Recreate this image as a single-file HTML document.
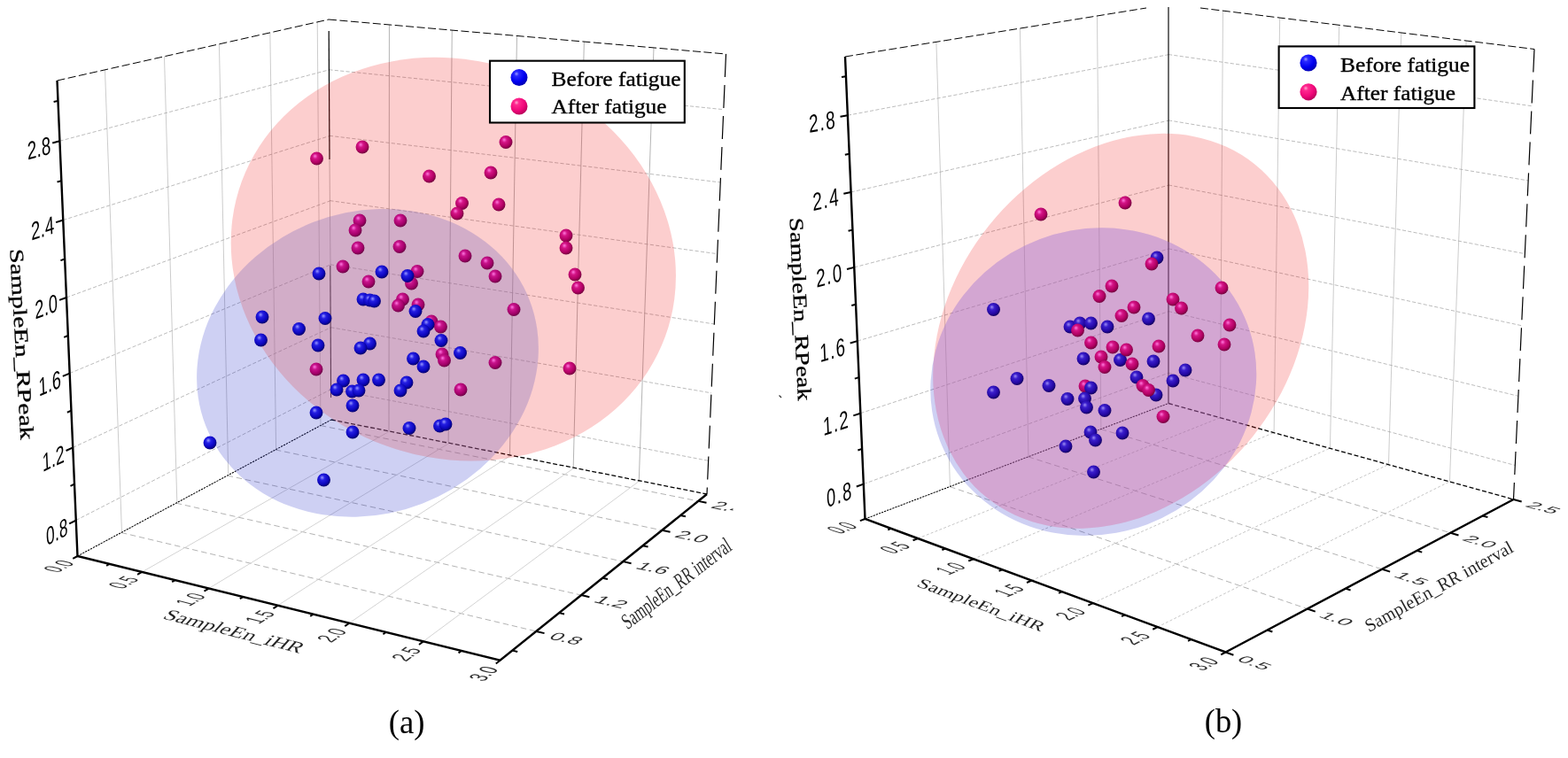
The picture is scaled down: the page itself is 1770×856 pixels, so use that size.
<!DOCTYPE html>
<html lang="en"><head><meta charset="utf-8"><title>Figure</title>
<style>
html,body{margin:0;padding:0;background:#fff;}
body{width:1770px;height:856px;overflow:hidden;}
svg{display:block;}
.sans{font-family:"Liberation Sans","DejaVu Sans",sans-serif;fill:#000;}
.serif{font-family:"Liberation Serif","DejaVu Serif",serif;fill:#000;}
.lg{stroke:#000;stroke-width:0.35;}
.gv{stroke:#c6c6c6;stroke-width:0.9;fill:none;}
.gvd{stroke:#ababab;stroke-width:0.9;fill:none;}
.gf{stroke:#cfcfcf;stroke-width:0.9;fill:none;}
.gfd{stroke:#b8b8b8;stroke-width:0.8;stroke-dasharray:3 2.2;fill:none;}
.gd{stroke:#a0a0a0;stroke-width:0.8;stroke-dasharray:6.5 3.8;fill:none;}
.gw{stroke:#a6a6a6;stroke-width:0.75;stroke-dasharray:4.2 2.2;fill:none;}
.ed{stroke:#000;stroke-width:1;stroke-dasharray:9 3.5;fill:none;}
.er{stroke:#000;stroke-width:1.2;stroke-dasharray:26 9;fill:none;}
.eb1{stroke:#000;stroke-width:1.05;stroke-dasharray:2.2 1.1;fill:none;}
.eb2{stroke:#000;stroke-width:1.3;stroke-dasharray:5 2.5;fill:none;}
.ebk{stroke:#000;fill:none;}
.ax{stroke:#000;stroke-width:2.4;fill:none;stroke-linejoin:miter;}
.tk{stroke:#000;stroke-width:2;fill:none;}
.ep{fill:rgba(238,12,8,0.2);}
.eb{fill:rgba(30,40,200,0.22);}
.ep2{fill:rgba(238,12,8,0.2);}
.eb2f{fill:rgba(30,40,200,0.22);}
</style></head>
<body>
<svg width="1770" height="856" viewBox="0 0 1770 856">
<defs>
<radialGradient id="gb" cx="0.42" cy="0.4" r="0.64" fx="0.37" fy="0.31">
<stop offset="0" stop-color="#9c9cff"/><stop offset="0.3" stop-color="#221ee8"/><stop offset="0.7" stop-color="#0a04c0"/><stop offset="1" stop-color="#050060"/>
</radialGradient>
<radialGradient id="gbi" cx="0.42" cy="0.4" r="0.64" fx="0.37" fy="0.31">
<stop offset="0" stop-color="#9898ff"/><stop offset="0.3" stop-color="#241ee2"/><stop offset="0.7" stop-color="#0c06bc"/><stop offset="1" stop-color="#05005e"/>
</radialGradient>
<radialGradient id="gbo" cx="0.42" cy="0.4" r="0.64" fx="0.37" fy="0.31">
<stop offset="0" stop-color="#9690ff"/><stop offset="0.3" stop-color="#2c1cd8"/><stop offset="0.7" stop-color="#1606b0"/><stop offset="1" stop-color="#0a005a"/>
</radialGradient>
<radialGradient id="gbx" cx="0.42" cy="0.4" r="0.64" fx="0.37" fy="0.31">
<stop offset="0" stop-color="#9c8cf4"/><stop offset="0.3" stop-color="#3a1ecc"/><stop offset="0.7" stop-color="#2408a4"/><stop offset="1" stop-color="#100054"/>
</radialGradient>
<radialGradient id="gp" cx="0.42" cy="0.4" r="0.64" fx="0.37" fy="0.31">
<stop offset="0" stop-color="#ff7cdc"/><stop offset="0.3" stop-color="#da1484"/><stop offset="0.7" stop-color="#b4005e"/><stop offset="1" stop-color="#6c0034"/>
</radialGradient>
<radialGradient id="gpi" cx="0.42" cy="0.4" r="0.64" fx="0.37" fy="0.31">
<stop offset="0" stop-color="#ff7ade"/><stop offset="0.3" stop-color="#d41486"/><stop offset="0.7" stop-color="#b00062"/><stop offset="1" stop-color="#6a0038"/>
</radialGradient>
<radialGradient id="gpo" cx="0.42" cy="0.4" r="0.64" fx="0.37" fy="0.31">
<stop offset="0" stop-color="#ff78e2"/><stop offset="0.3" stop-color="#c8148c"/><stop offset="0.7" stop-color="#a4006a"/><stop offset="1" stop-color="#640040"/>
</radialGradient>
<radialGradient id="lb" cx="0.38" cy="0.32" r="0.7" fx="0.34" fy="0.28">
<stop offset="0" stop-color="#9a9aff"/><stop offset="0.2" stop-color="#2a2aff"/><stop offset="0.65" stop-color="#0000f0"/><stop offset="1" stop-color="#0000b0"/>
</radialGradient>
<radialGradient id="lp" cx="0.38" cy="0.32" r="0.7" fx="0.34" fy="0.28">
<stop offset="0" stop-color="#ffa8d0"/><stop offset="0.2" stop-color="#ff2a90"/><stop offset="0.65" stop-color="#f0087a"/><stop offset="1" stop-color="#b8005a"/>
</radialGradient>
<clipPath id="clipL"><rect x="0" y="0" width="827.5" height="856"/></clipPath>
</defs>
<rect width="1770" height="856" fill="#fff"/>
<g><line x1="137.49" y1="601.13" x2="118.47" y2="78.85" class="gv"/><line x1="136.87" y1="601.46" x2="605.29" y2="712.95" class="gd"/><line x1="199.83" y1="567.62" x2="185.48" y2="63.76" class="gv"/><line x1="198.8" y1="568.18" x2="656.13" y2="672.07" class="gd"/><line x1="257.72" y1="536.5" x2="247.42" y2="49.82" class="gv"/><line x1="256.67" y1="537.07" x2="703.32" y2="634.13" class="gd"/><line x1="311.62" y1="507.53" x2="304.85" y2="36.89" class="gv"/><line x1="310.88" y1="507.93" x2="747.22" y2="598.83" class="gd"/><line x1="361.94" y1="480.48" x2="358.23" y2="24.87" class="gv"/><line x1="361.76" y1="480.58" x2="788.19" y2="565.89" class="gd"/><line x1="439.01" y1="486.88" x2="439.45" y2="27.95" class="gvd"/><line x1="160.31" y1="645.97" x2="439.64" y2="487" class="gf"/><line x1="506.14" y1="500.18" x2="510.25" y2="34.11" class="gvd"/><line x1="235.61" y1="664.56" x2="507.17" y2="500.38" class="gf"/><line x1="575.49" y1="513.92" x2="583.51" y2="40.48" class="gvd"/><line x1="313.53" y1="683.8" x2="576.68" y2="514.15" class="gf"/><line x1="647.17" y1="528.12" x2="659.38" y2="47.08" class="gvd"/><line x1="394.22" y1="703.72" x2="648.26" y2="528.33" class="gf"/><line x1="721.29" y1="542.8" x2="737.99" y2="53.91" class="gvd"/><line x1="477.82" y1="724.35" x2="722" y2="542.94" class="gf"/><line x1="85.77" y1="587.56" x2="373.77" y2="439.61" class="gw"/><line x1="373.77" y1="439.51" x2="799.63" y2="520.27" class="gw"/><line x1="82.25" y1="505.42" x2="373.31" y2="369.93" class="gw"/><line x1="373.31" y1="369.7" x2="802.94" y2="443.8" class="gw"/><line x1="78.66" y1="421.57" x2="372.84" y2="299.06" class="gw"/><line x1="372.84" y1="298.75" x2="806.31" y2="365.95" class="gw"/><line x1="74.99" y1="335.97" x2="372.36" y2="226.95" class="gw"/><line x1="372.36" y1="226.62" x2="809.74" y2="286.67" class="gw"/><line x1="71.25" y1="248.54" x2="371.87" y2="153.57" class="gw"/><line x1="371.87" y1="153.3" x2="813.23" y2="205.93" class="gw"/><line x1="67.42" y1="159.24" x2="371.38" y2="78.89" class="gw"/><line x1="371.38" y1="78.74" x2="816.79" y2="123.69" class="gw"/></g>
<g><line x1="64.5" y1="91" x2="371" y2="22" class="ed"/><line x1="371" y1="22" x2="819.5" y2="61" class="ed"/><line x1="819.5" y1="61" x2="798" y2="558" class="er"/><line x1="87.5" y1="628" x2="374" y2="474" class="eb1"/><line x1="374" y1="474" x2="798" y2="558" class="eb2"/><line x1="371.2" y1="35" x2="372" y2="180" class="ebk" opacity="1" stroke-width="1.2"/><line x1="372" y1="180" x2="373" y2="300" class="ebk" opacity="0.25" stroke-width="1"/><line x1="372.8" y1="300" x2="373.6" y2="449" class="ebk" opacity="0.85" stroke-width="1.1"/></g>
<ellipse cx="511.82" cy="292.7" rx="254.56" ry="224.02" transform="rotate(20.14 511.82 292.7)" class="ep"/>
<ellipse cx="414.97" cy="409.91" rx="196.05" ry="170.35" transform="rotate(-21.22 414.97 409.91)" class="eb"/>
<clipPath id="cpep"><ellipse cx="511.82" cy="292.7" rx="254.56" ry="224.02" transform="rotate(20.14 511.82 292.7)" class="x"/></clipPath>
<g clip-path="url(#cpep)"><ellipse cx="414.97" cy="409.91" rx="196.05" ry="170.35" transform="rotate(-21.22 414.97 409.91)" fill="rgba(255,204,182,0.15)"/></g>
<g><circle cx="357.5" cy="179" r="7.45" fill="url(#gpi)"/><circle cx="409" cy="166" r="7.45" fill="url(#gpi)"/><circle cx="571" cy="160.5" r="7.45" fill="url(#gpi)"/><circle cx="554" cy="195" r="7.45" fill="url(#gpi)"/><circle cx="484.5" cy="199" r="7.45" fill="url(#gpi)"/><circle cx="521.5" cy="229.5" r="7.45" fill="url(#gpi)"/><circle cx="516" cy="241" r="7.45" fill="url(#gpi)"/><circle cx="563" cy="231" r="7.45" fill="url(#gpi)"/><circle cx="639" cy="266" r="7.45" fill="url(#gpi)"/><circle cx="639" cy="280" r="7.45" fill="url(#gpi)"/><circle cx="649" cy="310" r="7.45" fill="url(#gpi)"/><circle cx="652.5" cy="325" r="7.45" fill="url(#gpi)"/><circle cx="643" cy="416" r="7.45" fill="url(#gpi)"/></g>
<g><circle cx="406" cy="249" r="7.45" fill="url(#gpo)"/><circle cx="401" cy="260" r="7.45" fill="url(#gpo)"/><circle cx="404" cy="280" r="7.45" fill="url(#gpo)"/><circle cx="387" cy="301" r="7.45" fill="url(#gpo)"/><circle cx="416" cy="318" r="7.45" fill="url(#gpo)"/><circle cx="357" cy="417" r="7.45" fill="url(#gpo)"/><circle cx="452" cy="249" r="7.45" fill="url(#gpo)"/><circle cx="451" cy="278.5" r="7.45" fill="url(#gpo)"/><circle cx="525" cy="289" r="7.45" fill="url(#gpo)"/><circle cx="550" cy="297" r="7.45" fill="url(#gpo)"/><circle cx="559" cy="312" r="7.45" fill="url(#gpo)"/><circle cx="580" cy="349.5" r="7.45" fill="url(#gpo)"/><circle cx="471" cy="306.5" r="7.45" fill="url(#gpo)"/><circle cx="464.5" cy="320" r="7.45" fill="url(#gpo)"/><circle cx="454.5" cy="338" r="7.45" fill="url(#gpo)"/><circle cx="449.5" cy="345" r="7.45" fill="url(#gpo)"/><circle cx="472" cy="344" r="7.45" fill="url(#gpo)"/><circle cx="487" cy="363" r="7.45" fill="url(#gpo)"/><circle cx="497.5" cy="369" r="7.45" fill="url(#gpo)"/><circle cx="499" cy="400" r="7.45" fill="url(#gpo)"/><circle cx="501.5" cy="407" r="7.45" fill="url(#gpo)"/><circle cx="559" cy="409.5" r="7.45" fill="url(#gpo)"/><circle cx="520" cy="440" r="7.45" fill="url(#gpo)"/></g>
<g><circle cx="360" cy="309" r="7.45" fill="url(#gbi)"/><circle cx="431" cy="307" r="7.45" fill="url(#gbi)"/><circle cx="410" cy="338" r="7.45" fill="url(#gbi)"/><circle cx="417.5" cy="339" r="7.45" fill="url(#gbi)"/><circle cx="422.5" cy="340" r="7.45" fill="url(#gbi)"/><circle cx="296" cy="358" r="7.45" fill="url(#gbi)"/><circle cx="367" cy="359.5" r="7.45" fill="url(#gbi)"/><circle cx="337.5" cy="371.5" r="7.45" fill="url(#gbi)"/><circle cx="294.5" cy="384" r="7.45" fill="url(#gbi)"/><circle cx="359" cy="390" r="7.45" fill="url(#gbi)"/><circle cx="417.5" cy="388" r="7.45" fill="url(#gbi)"/><circle cx="407" cy="393" r="7.45" fill="url(#gbi)"/><circle cx="460" cy="311.5" r="7.45" fill="url(#gbi)"/><circle cx="469" cy="351.5" r="7.45" fill="url(#gbi)"/><circle cx="483" cy="366.5" r="7.45" fill="url(#gbi)"/><circle cx="478" cy="374" r="7.45" fill="url(#gbi)"/><circle cx="498" cy="384.5" r="7.45" fill="url(#gbi)"/><circle cx="519.5" cy="398.5" r="7.45" fill="url(#gbi)"/><circle cx="466.5" cy="405" r="7.45" fill="url(#gbi)"/><circle cx="478" cy="414" r="7.45" fill="url(#gbi)"/><circle cx="387.5" cy="430" r="7.45" fill="url(#gbi)"/><circle cx="410" cy="429" r="7.45" fill="url(#gbi)"/><circle cx="427.5" cy="429" r="7.45" fill="url(#gbi)"/><circle cx="380" cy="440" r="7.45" fill="url(#gbi)"/><circle cx="397.5" cy="442" r="7.45" fill="url(#gbi)"/><circle cx="405" cy="441" r="7.45" fill="url(#gbi)"/><circle cx="398" cy="458" r="7.45" fill="url(#gbi)"/><circle cx="357" cy="466" r="7.45" fill="url(#gbi)"/><circle cx="398" cy="488" r="7.45" fill="url(#gbi)"/><circle cx="365.5" cy="542" r="7.45" fill="url(#gbi)"/><circle cx="459" cy="432" r="7.45" fill="url(#gbi)"/><circle cx="452" cy="441" r="7.45" fill="url(#gbi)"/><circle cx="462" cy="483.5" r="7.45" fill="url(#gbi)"/><circle cx="496.5" cy="481" r="7.45" fill="url(#gbi)"/><circle cx="503" cy="479" r="7.45" fill="url(#gbi)"/></g>
<g><circle cx="237" cy="500" r="7.45" fill="url(#gb)"/></g>
<g clip-path="url(#clipL)">
<polyline points="64.5,91 87.5,628 564.5,745.75 798,558" class="ax"/>
<text transform="matrix(0.6049 -0.3107 0.0428 0.9991 76.92 603.84)" class="sans" font-size="28.4" text-anchor="end" letter-spacing="0.3">0.8</text>
<text transform="matrix(0.6165 -0.287 0.0428 0.9991 73.22 521.34)" class="sans" font-size="28.4" text-anchor="end" letter-spacing="0.3">1.2</text>
<text transform="matrix(0.6277 -0.2614 0.0428 0.9991 69.46 437.1)" class="sans" font-size="28.4" text-anchor="end" letter-spacing="0.3">1.6</text>
<text transform="matrix(0.6384 -0.2341 0.0428 0.9991 65.63 351.07)" class="sans" font-size="28.4" text-anchor="end" letter-spacing="0.3">2.0</text>
<text transform="matrix(0.6484 -0.2048 0.0428 0.9991 61.73 263.19)" class="sans" font-size="28.4" text-anchor="end" letter-spacing="0.3">2.4</text>
<text transform="matrix(0.6574 -0.1738 0.0428 0.9991 57.76 173.42)" class="sans" font-size="28.4" text-anchor="end" letter-spacing="0.3">2.8</text>
<text transform="matrix(0.5461 -0.2935 0.9709 0.2397 85.23 636.08)" class="sans" font-size="26.5" text-anchor="end" opacity="0.82">0.0</text>
<text transform="matrix(0.5388 -0.3067 0.9709 0.2397 158.18 654.31)" class="sans" font-size="26.5" text-anchor="end" opacity="0.82">0.5</text>
<text transform="matrix(0.5306 -0.3208 0.9709 0.2397 233.65 673.19)" class="sans" font-size="26.5" text-anchor="end" opacity="0.82">1.0</text>
<text transform="matrix(0.5211 -0.3359 0.9709 0.2397 311.76 692.73)" class="sans" font-size="26.5" text-anchor="end" opacity="0.82">1.5</text>
<text transform="matrix(0.5102 -0.3522 0.9709 0.2397 392.67 712.97)" class="sans" font-size="26.5" text-anchor="end" opacity="0.82">2.0</text>
<text transform="matrix(0.4977 -0.3698 0.9709 0.2397 476.53 733.97)" class="sans" font-size="26.5" text-anchor="end" opacity="0.82">2.5</text>
<text transform="matrix(0.4832 -0.3885 0.9709 0.2397 563.5 755.74)" class="sans" font-size="26.5" text-anchor="end" opacity="0.82">3.0</text>
<text transform="matrix(0.895 0.213 -0.5066 0.4073 618.13 720.88)" class="sans" font-size="26.5" text-anchor="start" opacity="0.82">0.8</text>
<text transform="matrix(0.8971 0.2038 -0.5066 0.4073 669.01 679.82)" class="sans" font-size="26.5" text-anchor="start" opacity="0.82">1.2</text>
<text transform="matrix(0.899 0.1954 -0.5066 0.4073 716.23 641.71)" class="sans" font-size="26.5" text-anchor="start" opacity="0.82">1.6</text>
<text transform="matrix(0.9007 0.1876 -0.5066 0.4073 760.17 606.26)" class="sans" font-size="26.5" text-anchor="start" opacity="0.82">2.0</text>
<text transform="matrix(0.9021 0.1805 -0.5066 0.4073 801.16 573.18)" class="sans" font-size="26.5" text-anchor="start" opacity="0.82">2.4</text>
<g><line x1="85.77" y1="587.56" x2="78.21" y2="591.44" class="tk"/><line x1="84.02" y1="546.7" x2="79.53" y2="548.9" class="tk"/><line x1="82.25" y1="505.42" x2="74.54" y2="509" class="tk"/><line x1="80.46" y1="463.71" x2="75.89" y2="465.73" class="tk"/><line x1="78.66" y1="421.57" x2="70.81" y2="424.84" class="tk"/><line x1="76.83" y1="378.99" x2="72.18" y2="380.82" class="tk"/><line x1="74.99" y1="335.97" x2="67.01" y2="338.89" class="tk"/><line x1="73.13" y1="292.48" x2="68.4" y2="294.1" class="tk"/><line x1="71.25" y1="248.54" x2="63.14" y2="251.1" class="tk"/><line x1="69.35" y1="204.13" x2="64.54" y2="205.52" class="tk"/><line x1="67.42" y1="159.24" x2="59.21" y2="161.41" class="tk"/><line x1="65.48" y1="113.87" x2="60.62" y2="115.03" class="tk"/><line x1="87.5" y1="628" x2="82.22" y2="630.84" class="tk"/><line x1="123.6" y1="636.91" x2="120.1" y2="638.85" class="tk"/><line x1="160.31" y1="645.97" x2="155.09" y2="648.94" class="tk"/><line x1="197.64" y1="655.19" x2="194.19" y2="657.21" class="tk"/><line x1="235.61" y1="664.56" x2="230.47" y2="667.67" class="tk"/><line x1="274.23" y1="674.1" x2="270.84" y2="676.21" class="tk"/><line x1="313.53" y1="683.8" x2="308.49" y2="687.05" class="tk"/><line x1="353.52" y1="693.67" x2="350.19" y2="695.89" class="tk"/><line x1="394.22" y1="703.72" x2="389.28" y2="707.12" class="tk"/><line x1="435.65" y1="713.94" x2="432.4" y2="716.27" class="tk"/><line x1="477.82" y1="724.35" x2="473.01" y2="727.93" class="tk"/><line x1="520.77" y1="734.95" x2="517.6" y2="737.4" class="tk"/><line x1="564.5" y1="745.75" x2="559.82" y2="749.51" class="tk"/><line x1="578.37" y1="734.6" x2="584.2" y2="736.02" class="tk"/><line x1="605.29" y1="712.95" x2="614.53" y2="715.15" class="tk"/><line x1="631.2" y1="692.12" x2="637.04" y2="693.48" class="tk"/><line x1="656.13" y1="672.07" x2="665.4" y2="674.18" class="tk"/><line x1="680.16" y1="652.75" x2="686.01" y2="654.06" class="tk"/><line x1="703.32" y1="634.13" x2="712.6" y2="636.15" class="tk"/><line x1="725.66" y1="616.17" x2="731.53" y2="617.42" class="tk"/><line x1="747.22" y1="598.83" x2="756.52" y2="600.76" class="tk"/><line x1="768.05" y1="582.08" x2="773.93" y2="583.28" class="tk"/><line x1="788.19" y1="565.89" x2="797.5" y2="567.76" class="tk"/></g>
<text transform="matrix(0.969 0.247 -0.6691 0.7431 260 718)" class="serif" font-size="20.8" text-anchor="middle" textLength="160" lengthAdjust="spacingAndGlyphs" opacity="0.85">SampleEn_iHR</text>
<text transform="matrix(0.7934 -0.6088 0.6359 1.0177 767.8 665.8)" class="serif" font-size="20.8" text-anchor="middle" textLength="150" lengthAdjust="spacingAndGlyphs" opacity="0.85">SampleEn_RR interval</text>
<text transform="matrix(0.0558 0.9984 -0.9984 0.0558 17.2 389)" class="serif" font-size="22" text-anchor="middle" textLength="216" lengthAdjust="spacingAndGlyphs" stroke="#000" stroke-width="0.3">SampleEn_RPeak</text>
</g>
<rect x="553" y="68.7" width="219.8" height="69.8" fill="#fff" stroke="#000" stroke-width="2.1"/>
<circle cx="586" cy="87.5" r="9.5" fill="url(#lb)"/>
<circle cx="586" cy="120" r="9.5" fill="url(#lp)"/>
<text x="622.5" y="96.6" class="serif lg" font-size="23.6" textLength="146" lengthAdjust="spacingAndGlyphs">Before fatigue</text>
<text x="622.5" y="128.4" class="serif lg" font-size="23.6" textLength="130" lengthAdjust="spacingAndGlyphs">After fatigue</text>
<text x="459.2" y="828.2" class="serif" font-size="37.5" text-anchor="middle" textLength="40.7" lengthAdjust="spacingAndGlyphs">(a)</text>
<g><line x1="1072.41" y1="549.46" x2="1056.9" y2="47.37" class="gv"/><line x1="1072.16" y1="549.55" x2="1475.77" y2="687.52" class="gd"/><line x1="1160.93" y1="515.73" x2="1151.4" y2="32.09" class="gv"/><line x1="1160.63" y1="515.84" x2="1560.06" y2="642.79" class="gd"/><line x1="1242.89" y1="484.5" x2="1238.48" y2="18.02" class="gv"/><line x1="1242.69" y1="484.58" x2="1637.36" y2="601.76" class="gd"/><line x1="1377.35" y1="471.75" x2="1380.49" y2="12.52" class="gv"/><line x1="1036.16" y1="608.06" x2="1377.21" y2="471.72" class="gfd"/><line x1="1438.1" y1="488.68" x2="1444.66" y2="20.37" class="gv"/><line x1="1098.77" y1="631.21" x2="1437.88" y2="488.62" class="gfd"/><line x1="1501.42" y1="506.32" x2="1511.7" y2="28.56" class="gv"/><line x1="1164.55" y1="655.54" x2="1501.17" y2="506.24" class="gfd"/><line x1="1567.47" y1="524.72" x2="1581.78" y2="37.13" class="gv"/><line x1="1233.74" y1="681.12" x2="1567.23" y2="524.65" class="gfd"/><line x1="1636.43" y1="543.93" x2="1655.14" y2="46.1" class="gv"/><line x1="1306.62" y1="708.07" x2="1636.28" y2="543.88" class="gfd"/><line x1="974.8" y1="546.62" x2="1319" y2="421.22" class="gw"/><line x1="1319" y1="421.13" x2="1710.28" y2="525.46" class="gw"/><line x1="971.36" y1="466.68" x2="1319" y2="351.78" class="gw"/><line x1="1319" y1="351.55" x2="1713.89" y2="447.31" class="gw"/><line x1="967.84" y1="385.12" x2="1319" y2="281.14" class="gw"/><line x1="1319" y1="280.83" x2="1717.57" y2="367.71" class="gw"/><line x1="964.25" y1="301.89" x2="1319" y2="209.26" class="gw"/><line x1="1319" y1="208.94" x2="1721.32" y2="286.6" class="gw"/><line x1="960.59" y1="216.95" x2="1319" y2="136.13" class="gw"/><line x1="1319" y1="135.86" x2="1725.14" y2="203.96" class="gw"/><line x1="956.85" y1="130.23" x2="1319" y2="61.7" class="gw"/><line x1="1319" y1="61.55" x2="1729.03" y2="119.74" class="gw"/></g>
<g><line x1="954" y1="64" x2="1294" y2="9" class="ed"/><line x1="1355" y1="9" x2="1732" y2="55.5" class="ed"/><line x1="1732" y1="55.5" x2="1708.5" y2="564" class="er"/><line x1="976.5" y1="586" x2="1319" y2="455.5" class="eb1"/><line x1="1319" y1="455.5" x2="1708.5" y2="564" class="eb2"/><line x1="1319" y1="8" x2="1319" y2="455.5" class="ebk" opacity="0.82" stroke-width="1.4"/></g>
<ellipse cx="1265.24" cy="373.78" rx="241.45" ry="190.68" transform="rotate(-51.25 1265.24 373.78)" class="ep2"/>
<ellipse cx="1234.28" cy="431.15" rx="185.6" ry="172.12" transform="rotate(-20.69 1234.28 431.15)" class="eb2f"/>
<clipPath id="cpep2"><ellipse cx="1265.24" cy="373.78" rx="241.45" ry="190.68" transform="rotate(-51.25 1265.24 373.78)" class="x"/></clipPath>
<g clip-path="url(#cpep2)"><ellipse cx="1234.28" cy="431.15" rx="185.6" ry="172.12" transform="rotate(-20.69 1234.28 431.15)" fill="rgba(234,160,228,0.25)"/></g>
<g><circle cx="1306" cy="291" r="7.45" fill="url(#gbx)"/></g>
<g><circle cx="1225" cy="436" r="7.45" fill="url(#gpi)"/></g>
<g><circle cx="1121.5" cy="349.5" r="7.45" fill="url(#gbx)"/><circle cx="1208" cy="369" r="7.45" fill="url(#gbx)"/><circle cx="1219" cy="365" r="7.45" fill="url(#gbx)"/><circle cx="1231.5" cy="365" r="7.45" fill="url(#gbx)"/><circle cx="1250" cy="369" r="7.45" fill="url(#gbx)"/><circle cx="1296.5" cy="360" r="7.45" fill="url(#gbx)"/><circle cx="1223" cy="405" r="7.45" fill="url(#gbx)"/><circle cx="1264.5" cy="406.5" r="7.45" fill="url(#gbx)"/><circle cx="1302" cy="408" r="7.45" fill="url(#gbx)"/><circle cx="1148" cy="427.5" r="7.45" fill="url(#gbx)"/><circle cx="1283" cy="426" r="7.45" fill="url(#gbx)"/><circle cx="1324" cy="430" r="7.45" fill="url(#gbx)"/><circle cx="1338" cy="418" r="7.45" fill="url(#gbx)"/><circle cx="1184" cy="435.5" r="7.45" fill="url(#gbx)"/><circle cx="1121.5" cy="443" r="7.45" fill="url(#gbx)"/><circle cx="1231.5" cy="438" r="7.45" fill="url(#gbx)"/><circle cx="1205" cy="450.5" r="7.45" fill="url(#gbx)"/><circle cx="1224.5" cy="450" r="7.45" fill="url(#gbx)"/><circle cx="1226.5" cy="460" r="7.45" fill="url(#gbx)"/><circle cx="1247" cy="463.5" r="7.45" fill="url(#gbx)"/><circle cx="1231" cy="488" r="7.45" fill="url(#gbx)"/><circle cx="1236.5" cy="497" r="7.45" fill="url(#gbx)"/><circle cx="1267" cy="489" r="7.45" fill="url(#gbx)"/><circle cx="1203" cy="504" r="7.45" fill="url(#gbx)"/><circle cx="1234.5" cy="533" r="7.45" fill="url(#gbx)"/><circle cx="1305" cy="446" r="7.45" fill="url(#gbx)"/></g>
<g><circle cx="1175" cy="242" r="7.45" fill="url(#gpi)"/><circle cx="1270" cy="229" r="7.45" fill="url(#gpi)"/><circle cx="1300" cy="298" r="7.45" fill="url(#gpi)"/><circle cx="1255" cy="323" r="7.45" fill="url(#gpi)"/><circle cx="1241" cy="334.5" r="7.45" fill="url(#gpi)"/><circle cx="1280" cy="347" r="7.45" fill="url(#gpi)"/><circle cx="1266" cy="356.5" r="7.45" fill="url(#gpi)"/><circle cx="1216.5" cy="373" r="7.45" fill="url(#gpi)"/><circle cx="1231.5" cy="387" r="7.45" fill="url(#gpi)"/><circle cx="1256" cy="392" r="7.45" fill="url(#gpi)"/><circle cx="1271.5" cy="395" r="7.45" fill="url(#gpi)"/><circle cx="1243" cy="403" r="7.45" fill="url(#gpi)"/><circle cx="1278" cy="411" r="7.45" fill="url(#gpi)"/><circle cx="1247" cy="414.5" r="7.45" fill="url(#gpi)"/><circle cx="1308" cy="391" r="7.45" fill="url(#gpi)"/><circle cx="1324" cy="338" r="7.45" fill="url(#gpi)"/><circle cx="1379" cy="325" r="7.45" fill="url(#gpi)"/><circle cx="1333.5" cy="348" r="7.45" fill="url(#gpi)"/><circle cx="1388" cy="367" r="7.45" fill="url(#gpi)"/><circle cx="1352" cy="379" r="7.45" fill="url(#gpi)"/><circle cx="1382" cy="389" r="7.45" fill="url(#gpi)"/><circle cx="1290" cy="435.5" r="7.45" fill="url(#gpi)"/><circle cx="1296.5" cy="440.5" r="7.45" fill="url(#gpi)"/><circle cx="1313" cy="470.5" r="7.45" fill="url(#gpi)"/></g>
<g>
<polyline points="954,64 976.5,586 1383.5,736.5 1708.5,564" class="ax"/>
<text transform="matrix(0.6389 -0.2328 0.0431 0.9991 963.08 562.56)" class="sans" font-size="28.4" text-anchor="end" letter-spacing="2.3">0.8</text>
<text transform="matrix(0.6456 -0.2134 0.0431 0.9991 959.51 482.25)" class="sans" font-size="28.4" text-anchor="end" letter-spacing="2.3">1.2</text>
<text transform="matrix(0.652 -0.1931 0.0431 0.9991 955.87 400.3)" class="sans" font-size="28.4" text-anchor="end" letter-spacing="2.3">1.6</text>
<text transform="matrix(0.6579 -0.1718 0.0431 0.9991 952.17 316.67)" class="sans" font-size="28.4" text-anchor="end" letter-spacing="2.3">2.0</text>
<text transform="matrix(0.6633 -0.1496 0.0431 0.9991 948.41 231.3)" class="sans" font-size="28.4" text-anchor="end" letter-spacing="2.3">2.4</text>
<text transform="matrix(0.6681 -0.1264 0.0431 0.9991 944.58 144.14)" class="sans" font-size="28.4" text-anchor="end" letter-spacing="2.3">2.8</text>
<text transform="matrix(0.5794 -0.2208 0.9379 0.3468 969.52 595)" class="sans" font-size="26.5" text-anchor="end" opacity="0.82">0.0</text>
<text transform="matrix(0.5757 -0.2302 0.9379 0.3468 1029.28 617.31)" class="sans" font-size="26.5" text-anchor="end" opacity="0.82">0.5</text>
<text transform="matrix(0.5715 -0.2403 0.9379 0.3468 1092 640.73)" class="sans" font-size="26.5" text-anchor="end" opacity="0.82">1.0</text>
<text transform="matrix(0.5668 -0.2514 0.9379 0.3468 1157.91 665.35)" class="sans" font-size="26.5" text-anchor="end" opacity="0.82">1.5</text>
<text transform="matrix(0.5613 -0.2634 0.9379 0.3468 1227.25 691.25)" class="sans" font-size="26.5" text-anchor="end" opacity="0.82">2.0</text>
<text transform="matrix(0.555 -0.2764 0.9379 0.3468 1300.3 718.55)" class="sans" font-size="26.5" text-anchor="end" opacity="0.82">2.5</text>
<text transform="matrix(0.5476 -0.2907 0.9379 0.3468 1377.37 747.36)" class="sans" font-size="26.5" text-anchor="end" opacity="0.82">3.0</text>
<text transform="matrix(0.8629 0.3191 -0.5741 0.3047 1395.08 745.56)" class="sans" font-size="26.5" text-anchor="start" opacity="0.82">0.5</text>
<text transform="matrix(0.8705 0.2976 -0.5741 0.3047 1487.5 696.16)" class="sans" font-size="26.5" text-anchor="start" opacity="0.82">1.0</text>
<text transform="matrix(0.8768 0.2787 -0.5741 0.3047 1571.91 651.05)" class="sans" font-size="26.5" text-anchor="start" opacity="0.82">1.5</text>
<text transform="matrix(0.8819 0.2619 -0.5741 0.3047 1649.31 609.7)" class="sans" font-size="26.5" text-anchor="start" opacity="0.82">2.0</text>
<text transform="matrix(0.8863 0.2469 -0.5741 0.3047 1720.54 571.64)" class="sans" font-size="26.5" text-anchor="start" opacity="0.82">2.5</text>
<g><line x1="974.8" y1="546.62" x2="966.82" y2="549.53" class="tk"/><line x1="973.09" y1="506.85" x2="968.37" y2="508.49" class="tk"/><line x1="971.36" y1="466.68" x2="963.29" y2="469.34" class="tk"/><line x1="969.61" y1="426.1" x2="964.84" y2="427.6" class="tk"/><line x1="967.84" y1="385.12" x2="959.69" y2="387.53" class="tk"/><line x1="966.06" y1="343.72" x2="961.24" y2="345.06" class="tk"/><line x1="964.25" y1="301.89" x2="956.03" y2="304.04" class="tk"/><line x1="962.43" y1="259.64" x2="957.57" y2="260.82" class="tk"/><line x1="960.59" y1="216.95" x2="952.3" y2="218.82" class="tk"/><line x1="958.73" y1="173.82" x2="953.84" y2="174.83" class="tk"/><line x1="956.85" y1="130.23" x2="948.5" y2="131.81" class="tk"/><line x1="954.96" y1="86.19" x2="950.03" y2="87.04" class="tk"/><line x1="976.5" y1="586" x2="970.89" y2="588.14" class="tk"/><line x1="1005.98" y1="596.9" x2="1002.25" y2="598.35" class="tk"/><line x1="1036.16" y1="608.06" x2="1030.59" y2="610.29" class="tk"/><line x1="1067.09" y1="619.5" x2="1063.38" y2="621.01" class="tk"/><line x1="1098.77" y1="631.21" x2="1093.24" y2="633.54" class="tk"/><line x1="1131.25" y1="643.22" x2="1127.58" y2="644.81" class="tk"/><line x1="1164.55" y1="655.54" x2="1159.06" y2="657.97" class="tk"/><line x1="1198.7" y1="668.17" x2="1195.06" y2="669.83" class="tk"/><line x1="1233.74" y1="681.12" x2="1228.31" y2="683.67" class="tk"/><line x1="1269.7" y1="694.42" x2="1266.1" y2="696.16" class="tk"/><line x1="1306.62" y1="708.07" x2="1301.25" y2="710.75" class="tk"/><line x1="1344.54" y1="722.09" x2="1340.99" y2="723.92" class="tk"/><line x1="1383.5" y1="736.5" x2="1378.2" y2="739.31" class="tk"/><line x1="1383.5" y1="736.5" x2="1392.41" y2="739.79" class="tk"/><line x1="1430.7" y1="711.45" x2="1436.36" y2="713.45" class="tk"/><line x1="1475.77" y1="687.52" x2="1484.76" y2="690.6" class="tk"/><line x1="1518.85" y1="664.66" x2="1524.55" y2="666.54" class="tk"/><line x1="1560.06" y1="642.79" x2="1569.11" y2="645.66" class="tk"/><line x1="1599.53" y1="621.84" x2="1605.26" y2="623.6" class="tk"/><line x1="1637.36" y1="601.76" x2="1646.46" y2="604.46" class="tk"/><line x1="1673.65" y1="582.5" x2="1679.42" y2="584.15" class="tk"/><line x1="1708.5" y1="564" x2="1717.65" y2="566.55" class="tk"/></g>
<text transform="matrix(0.9391 0.3437 -0.5464 0.6511 1104 687.5)" class="serif" font-size="20.8" text-anchor="middle" textLength="150" lengthAdjust="spacingAndGlyphs" opacity="0.85">SampleEn_iHR</text>
<text transform="matrix(0.8729 -0.4879 0.4848 0.8746 1627.5 668.3)" class="serif" font-size="20.8" text-anchor="middle" textLength="188" lengthAdjust="spacingAndGlyphs" opacity="0.85">SampleEn_RR interval</text>
<text transform="matrix(0.0454 0.999 -0.999 0.0454 896.2 349.5)" class="serif" font-size="22" text-anchor="middle" textLength="207" lengthAdjust="spacingAndGlyphs" stroke="#000" stroke-width="0.3">SampleEn_RPeak</text>
</g>
<rect x="1443.6" y="52.4" width="220.8" height="69.6" fill="#fff" stroke="#000" stroke-width="2.1"/>
<circle cx="1477" cy="71" r="9.6" fill="url(#lb)"/>
<circle cx="1477" cy="103.8" r="9.6" fill="url(#lp)"/>
<text x="1513" y="81" class="serif lg" font-size="23.6" textLength="146" lengthAdjust="spacingAndGlyphs">Before fatigue</text>
<text x="1513" y="112.6" class="serif lg" font-size="23.6" textLength="130" lengthAdjust="spacingAndGlyphs">After fatigue</text>
<text x="1381" y="827.2" class="serif" font-size="37.5" text-anchor="middle" textLength="42.5" lengthAdjust="spacingAndGlyphs">(b)</text>
<path d="M879.5 446.5l2.5 2.5" stroke="#333" stroke-width="1.2"/>
</svg>
</body></html>
